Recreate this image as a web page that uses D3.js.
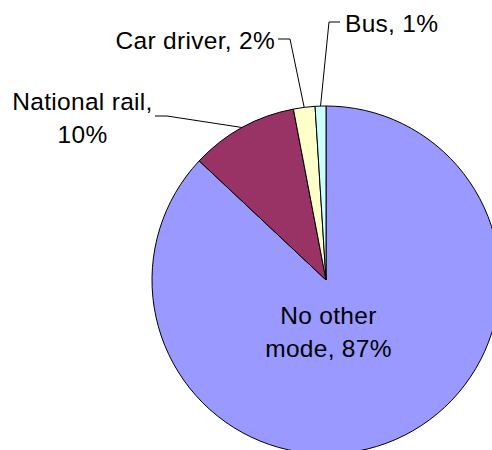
<!DOCTYPE html>
<html>
<head>
<meta charset="utf-8">
<script src="https://cdn.jsdelivr.net/npm/d3@7"></script>
<style>
  html, body { margin: 0; padding: 0; background: #fff; }
  svg { display: block; }
  text { font-family: "Liberation Sans", Arial, sans-serif; font-size: 24.5px; fill: #000; letter-spacing: 0.3px; }
</style>
</head>
<body>
<svg id="chart" width="492" height="450"></svg>
<script>
const categories = ["No other mode", "National rail", "Car driver", "Bus"];
const values = [87, 10, 2, 1];
const colors = ["#9999FF", "#993366", "#FFFFCC", "#CCFFFF"];
const labelLines = [["No other", "mode, 87%"], ["National rail,", "10%"], ["Car driver, 2%"], ["Bus, 1%"]];

const W = 492, H = 450;
const cx = 326, cy = 280, R = 174;

// label layout: elbow + end of leader, text anchor position
const layout = [
  { inside: true, x: 328.5, y: 324, anchor: "middle" },
  { elbow: [167, 116], end: [155, 116], x: 82.5, y: 110, anchor: "middle" },
  { elbow: [290, 39], end: [278, 39], x: 275, y: 49, anchor: "end" },
  { elbow: [329, 22], end: [340, 22], x: 345, y: 32, anchor: "start" }
];

const svg = d3.select("#chart");
const g = svg.append("g").attr("transform", `translate(${cx},${cy})`);

const data = categories.map((c, i) => ({ cat: c, value: values[i], i }));
const pie = d3.pie().value(d => d.value).sort(null);
const arcs = pie(data);
const arc = d3.arc().innerRadius(0).outerRadius(R);
const edgeArc = d3.arc().innerRadius(R).outerRadius(R);

g.selectAll("path.slice").data(arcs).join("path")
  .attr("class", "slice")
  .attr("d", arc)
  .attr("fill", d => colors[d.data.i])
  .attr("stroke", "#000")
  .attr("stroke-width", 1)
  .attr("stroke-linejoin", "round");

// leaders
arcs.forEach(a => {
  const L = layout[a.data.i];
  if (L.inside) return;
  const p = edgeArc.centroid(a);
  const start = [p[0] + cx, p[1] + cy];
  svg.append("polyline")
    .attr("points", [start, L.elbow, L.end].map(q => q.join(",")).join(" "))
    .attr("fill", "none")
    .attr("stroke", "#000")
    .attr("stroke-width", 1);
});

// labels
arcs.forEach(a => {
  const L = layout[a.data.i];
  const t = svg.append("text")
    .attr("x", L.x).attr("y", L.y)
    .attr("text-anchor", L.anchor);
  labelLines[a.data.i].forEach((line, k) => {
    t.append("tspan").attr("x", L.x).attr("dy", k === 0 ? 0 : 32.5).text(line);
  });
});
</script>
</body>
</html>
